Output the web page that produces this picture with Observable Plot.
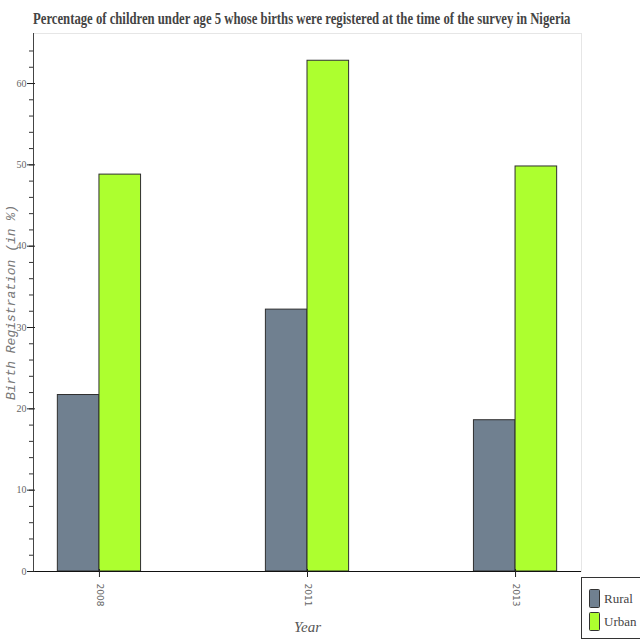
<!DOCTYPE html>
<html>
<head>
<meta charset="utf-8">
<script src="https://cdn.jsdelivr.net/npm/d3@7"></script>
<script src="https://cdn.jsdelivr.net/npm/@observablehq/plot@0.6"></script>
<style>
  html, body { margin: 0; padding: 0; background: #fff; }
  #wrap { position: relative; width: 640px; height: 640px; overflow: hidden; }
</style>
</head>
<body>
<div id="wrap"></div>
<script>
const years = ["2008", "2011", "2013"];
const rural = [21.7, 32.2, 18.6];
const urban = [48.8, 62.8, 49.8];
const seriesNames = ["Rural", "Urban"];
const seriesColors = ["#708090", "#adff2f"];
const majorTicks = [0, 10, 20, 30, 40, 50, 60];
const minorTicks = d3.range(0, 66, 2);

const W = 640, H = 640;
const mL = 33, mR = 59, mT = 33, mB = 69;
const padIn = 0.6, padOut = 0.117;
const bw = d3.scaleBand().domain(years).range([mL, W - mR]).paddingInner(padIn).paddingOuter(padOut).bandwidth();

const ruralData = years.map((y, i) => ({year: y, value: rural[i]}));
const urbanData = years.map((y, i) => ({year: y, value: urban[i]}));

const serif = "'Liberation Serif', 'DejaVu Serif', serif";

const chart = Plot.plot({
  width: W, height: H,
  marginLeft: mL, marginRight: mR, marginTop: mT, marginBottom: mB,
  style: {background: "#fff", overflow: "visible"},
  x: {type: "band", domain: years, paddingInner: padIn, paddingOuter: padOut, round: false, axis: null},
  y: {domain: [0, 66.15], axis: null},
  marks: [
    Plot.frame({stroke: "#e6e6e6"}),
    Plot.barY(ruralData, {x: "year", y: "value", fill: seriesColors[0], stroke: "#2f2f2f", strokeWidth: 1, insetRight: bw / 2}),
    Plot.barY(urbanData, {x: "year", y: "value", fill: seriesColors[1], stroke: "#2f2f2f", strokeWidth: 1, insetLeft: bw / 2}),
    Plot.frame({anchor: "left", stroke: "#444"}),
    Plot.ruleY([0], {stroke: "#111", strokeWidth: 1.2}),
    Plot.axisY({ticks: minorTicks, tickSize: 4, tickFormat: () => "", label: null, stroke: "#333"}),
    Plot.axisY({ticks: majorTicks, tickSize: 8, dx: 2, tickFormat: () => "", label: null, stroke: "#222"}),
    Plot.axisY({ticks: majorTicks, tickSize: 0, tickPadding: 7, label: null, fontSize: 10, fontFamily: serif, fill: "#666"}),
    Plot.axisX({tickSize: 8, dy: -2, tickFormat: () => "", label: null, stroke: "#222"}),
    Plot.axisX({tickSize: 0, tickPadding: 12, tickRotate: 90, label: null, fontSize: 9, fontFamily: "'DejaVu Sans', sans-serif", fill: "#666", style: {letterSpacing: "1.5px"}}),
    Plot.text(["Birth Registration (in %)"], {frameAnchor: "left", rotate: -90, dx: -23, textAnchor: "middle", lineAnchor: "middle", fontSize: 13, fontFamily: "'Liberation Mono', monospace", fontStyle: "italic", fill: "#777"}),
    Plot.text(["Year"], {frameAnchor: "bottom", dy: 56, textAnchor: "middle", lineAnchor: "middle", fontSize: 15, fontFamily: serif, fontStyle: "italic", fill: "#555"})
  ]
});

const wrap = document.getElementById("wrap");
wrap.appendChild(chart);
const svg = d3.select(chart);

// Title (condensed by a horizontal scale to the reference width)
const title = svg.append("text")
  .attr("text-anchor", "start")
  .attr("font-family", serif).attr("font-weight", "bold").attr("font-size", 16)
  .attr("fill", "#444")
  .text("Percentage of children under age 5 whose births were registered at the time of the survey in Nigeria");
const tw = title.node().getComputedTextLength();
title.attr("transform", `translate(33,23.5) scale(${538 / tw},1)`);

// Legend
const lg = svg.append("g").attr("text-anchor", "start");
lg.append("rect").attr("x", 581.5).attr("y", 577.5).attr("width", 70).attr("height", 61)
  .attr("fill", "#fff").attr("stroke", "#333");
seriesNames.forEach((name, i) => {
  lg.append("rect").attr("x", 589.5).attr("y", 589.5 + i * 23).attr("width", 10).attr("height", 18)
    .attr("rx", 1).attr("fill", seriesColors[i]).attr("stroke", "#333");
  lg.append("text").attr("x", 604).attr("y", 598.5 + i * 23)
    .attr("dy", "0.35em")
    .attr("font-family", serif).attr("font-size", 13).attr("fill", "#444")
    .text(name);
});
</script>
</body>
</html>
